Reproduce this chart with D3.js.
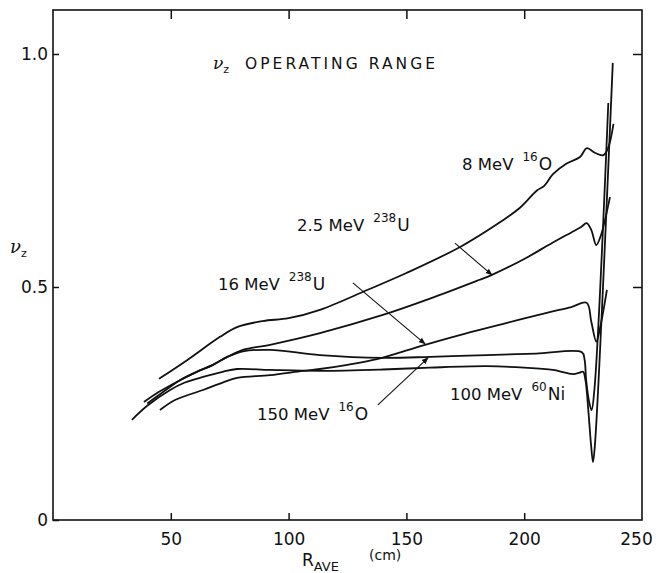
<!DOCTYPE html>
<html>
<head>
<meta charset="utf-8">
<script src="https://cdn.jsdelivr.net/npm/d3@7"></script>
<style>
  body { margin: 0; background: #fff; }
  text { font-family: "DejaVu Sans", sans-serif; fill: #111; }
</style>
</head>
<body>
<div id="vis"></div>
<script>
// R_AVE (cm) and nu_z, one pair of arrays per curve
var rO16_8   = [45.0, 56.9, 70.9, 78.1, 89.1, 100, 113.3, 133.6, 150, 172.8, 190, 198.2, 205.4, 208.5, 212.2, 218, 223.7, 226.6, 230.0, 233.6, 235.6, 237.9];
var nuO16_8  = [0.303, 0.343, 0.393, 0.414, 0.427, 0.433, 0.451, 0.494, 0.530, 0.586, 0.640, 0.670, 0.707, 0.717, 0.742, 0.765, 0.779, 0.798, 0.788, 0.783, 0.798, 0.850];

var rU238_25  = [38.6, 45, 53.9, 61, 67.9, 74, 80.6, 92.1, 113.3, 140, 160, 180.8, 186.3, 200, 212, 220, 224, 226.5, 228.5, 230.6, 232.5, 236.4];
var nuU238_25 = [0.253, 0.275, 0.300, 0.318, 0.333, 0.350, 0.365, 0.376, 0.401, 0.440, 0.475, 0.515, 0.526, 0.560, 0.595, 0.617, 0.628, 0.637, 0.622, 0.590, 0.610, 0.693];

var rU238_16  = [45.4, 52, 63.7, 72, 78.1, 92.1, 106.1, 113.3, 125, 137.5, 157.9, 175, 192.7, 210, 220, 226.5, 228.5, 230.6, 232.5, 235.1];
var nuU238_16 = [0.236, 0.258, 0.279, 0.295, 0.305, 0.311, 0.320, 0.324, 0.333, 0.345, 0.376, 0.400, 0.423, 0.445, 0.457, 0.466, 0.425, 0.383, 0.420, 0.494];

var rO16_150  = [40.0, 46, 53.9, 61, 67.9, 74, 80.6, 92.1, 113.3, 140, 160, 184, 205, 224.5, 225.6, 226.3, 227.5, 228.6, 229.8, 235.7];
var nuO16_150 = [0.250, 0.272, 0.300, 0.318, 0.333, 0.350, 0.362, 0.365, 0.354, 0.348, 0.350, 0.354, 0.357, 0.360, 0.345, 0.300, 0.255, 0.236, 0.280, 0.895];

var rNi60_100  = [33.5, 40, 49.7, 56, 63.7, 72, 78.1, 92.1, 113.3, 140, 160, 184.2, 200, 212.2, 220.7, 223.5, 225, 226, 227.3, 228.4, 229.2, 230, 237.6];
var nuNi60_100 = [0.215, 0.245, 0.279, 0.295, 0.307, 0.318, 0.324, 0.322, 0.320, 0.323, 0.327, 0.330, 0.327, 0.322, 0.313, 0.316, 0.318, 0.300, 0.230, 0.160, 0.124, 0.160, 0.981];

var xTicks = [50, 100, 150, 200, 250];
var yTicks = [0, 0.5, 1.0];

var curves = [
  { r: rO16_8, nu: nuO16_8 },
  { r: rU238_25, nu: nuU238_25 },
  { r: rU238_16, nu: nuU238_16 },
  { r: rO16_150, nu: nuO16_150 },
  { r: rNi60_100, nu: nuNi60_100 }
];

// curve labels, anchored in data units
var labels = [
  { pre: "8 MeV", sup: "16", el: "O",  r: 173.6, nu: 0.751 },
  { pre: "2.5 MeV", sup: "238", el: "U", r: 103.6, nu: 0.620 },
  { pre: "16 MeV", sup: "238", el: "U", r: 70.0, nu: 0.494 },
  { pre: "150 MeV", sup: "16", el: "O", r: 86.6, nu: 0.215 },
  { pre: "100 MeV", sup: "60", el: "Ni", r: 168.5, nu: 0.258 }
];

var arrows = [
  { r0: 170.6, nu0: 0.594, r1: 186.3, nu1: 0.526 },
  { r0: 127.3, nu0: 0.509, r1: 157.9, nu1: 0.378 },
  { r0: 137.9, nu0: 0.247, r1: 159.2, nu1: 0.348 }
];

var W = 656, H = 573;
var margin = { top: 10, right: 14, bottom: 53, left: 53 };

var svg = d3.select("#vis")
  .append("svg")
  .attr("width", W)
  .attr("height", H);

var x = d3.scaleLinear().domain([0, 250]).range([margin.left, W - margin.right]);
var y = d3.scaleLinear().domain([0, 1.0944]).range([H - margin.bottom, margin.top]);

////////// axes //////////

var gx = svg.append("g")
  .attr("transform", "translate(0," + (H - margin.bottom) + ")")
  .call(d3.axisBottom(x).tickValues(xTicks).tickSize(-7).tickSizeOuter(0).tickPadding(13));

// last label sits a bit left of the corner, like the original
gx.selectAll(".tick text").filter(function (d) { return d === 250; }).attr("dx", -6);
gx.selectAll(".tick line").filter(function (d) { return d === 250; }).remove();

var gy = svg.append("g")
  .attr("transform", "translate(" + margin.left + ",0)")
  .call(d3.axisLeft(y).tickValues(yTicks).tickSize(-6).tickSizeOuter(0).tickPadding(5)
    .tickFormat(function (d) { return d === 0 ? "0" : d.toFixed(1); }));

var gt = svg.append("g")
  .attr("transform", "translate(0," + margin.top + ")")
  .call(d3.axisTop(x).tickValues([50, 100, 150, 200]).tickSize(-9).tickSizeOuter(0).tickFormat(""));

var gr = svg.append("g")
  .attr("transform", "translate(" + (W - margin.right) + ",0)")
  .call(d3.axisRight(y).tickValues([0.5, 1.0]).tickSize(-9).tickSizeOuter(0).tickFormat(""));

[gx, gy, gt, gr].forEach(function (g) {
  g.select(".domain").remove();
  g.selectAll(".tick line").attr("stroke", "#111").attr("stroke-width", 1.5);
  g.selectAll(".tick text")
    .style("font-family", "DejaVu Sans, sans-serif")
    .style("font-size", "17px")
    .attr("fill", "#111");
});

svg.append("rect")
  .attr("x", x(0))
  .attr("y", y(1.0944))
  .attr("width", x(250) - x(0))
  .attr("height", y(0) - y(1.0944))
  .attr("fill", "none")
  .attr("stroke", "#111")
  .attr("stroke-width", 1.6);

////////// curves //////////

var line = d3.line()
  .x(function (d) { return x(d[0]); })
  .y(function (d) { return y(d[1]); })
  .curve(d3.curveCatmullRom.alpha(0.5));

svg.append("g")
  .selectAll("path")
  .data(curves)
  .enter()
  .append("path")
  .attr("d", function (c) { return line(d3.zip(c.r, c.nu)); })
  .attr("fill", "none")
  .attr("stroke", "#111")
  .attr("stroke-width", 1.8)
  .attr("stroke-linejoin", "round");

////////// arrows + labels //////////

svg.append("defs").append("marker")
  .attr("id", "head")
  .attr("viewBox", "0 0 10 10")
  .attr("refX", 9).attr("refY", 5)
  .attr("markerWidth", 7).attr("markerHeight", 7)
  .attr("markerUnits", "userSpaceOnUse")
  .attr("orient", "auto")
  .append("path")
  .attr("d", "M0,1 L10,5 L0,9 Z")
  .attr("fill", "#111");

svg.append("g")
  .selectAll("line")
  .data(arrows)
  .enter()
  .append("line")
  .attr("x1", function (a) { return x(a.r0); })
  .attr("y1", function (a) { return y(a.nu0); })
  .attr("x2", function (a) { return x(a.r1); })
  .attr("y2", function (a) { return y(a.nu1); })
  .attr("stroke", "#111")
  .attr("stroke-width", 1.1)
  .attr("marker-end", "url(#head)");

var lab = svg.append("g")
  .selectAll("text")
  .data(labels)
  .enter()
  .append("text")
  .attr("x", function (d) { return x(d.r); })
  .attr("y", function (d) { return y(d.nu); })
  .style("font-size", "16.5px");

lab.append("tspan").text(function (d) { return d.pre; });
lab.append("tspan").attr("dx", 9).attr("dy", -9).style("font-size", "12px").text(function (d) { return d.sup; });
lab.append("tspan").attr("dx", 1).attr("dy", 9).style("font-size", "17px").text(function (d) { return d.el; });

// title
var title = svg.append("text")
  .attr("x", x(67.9))
  .attr("y", y(0.968))
  .style("font-size", "17px");
title.append("tspan").style("font-family", "DejaVu Serif, serif").style("font-style", "italic").text("ν");
title.append("tspan").attr("dy", 4).style("font-size", "11px").text("z");

svg.append("text")
  .attr("x", x(81.5))
  .attr("y", y(0.968))
  .attr("textLength", 190)
  .attr("lengthAdjust", "spacing")
  .style("font-size", "15.5px")
  .text("OPERATING RANGE");

// axis titles
var yl = svg.append("text")
  .attr("x", 10)
  .attr("y", 253)
  .style("font-size", "18px");
yl.append("tspan").style("font-family", "DejaVu Serif, serif").style("font-style", "italic").text("ν");
yl.append("tspan").attr("dy", 4).style("font-size", "11px").text("z");

var xl = svg.append("text")
  .attr("x", 302)
  .attr("y", 566)
  .style("font-size", "17px");
xl.append("tspan").text("R");
xl.append("tspan").attr("dy", 5).style("font-size", "13px").text("AVE");
xl.append("tspan").attr("dx", 30).attr("dy", -11).style("font-size", "14px").text("(cm)");
</script>
</body>
</html>
